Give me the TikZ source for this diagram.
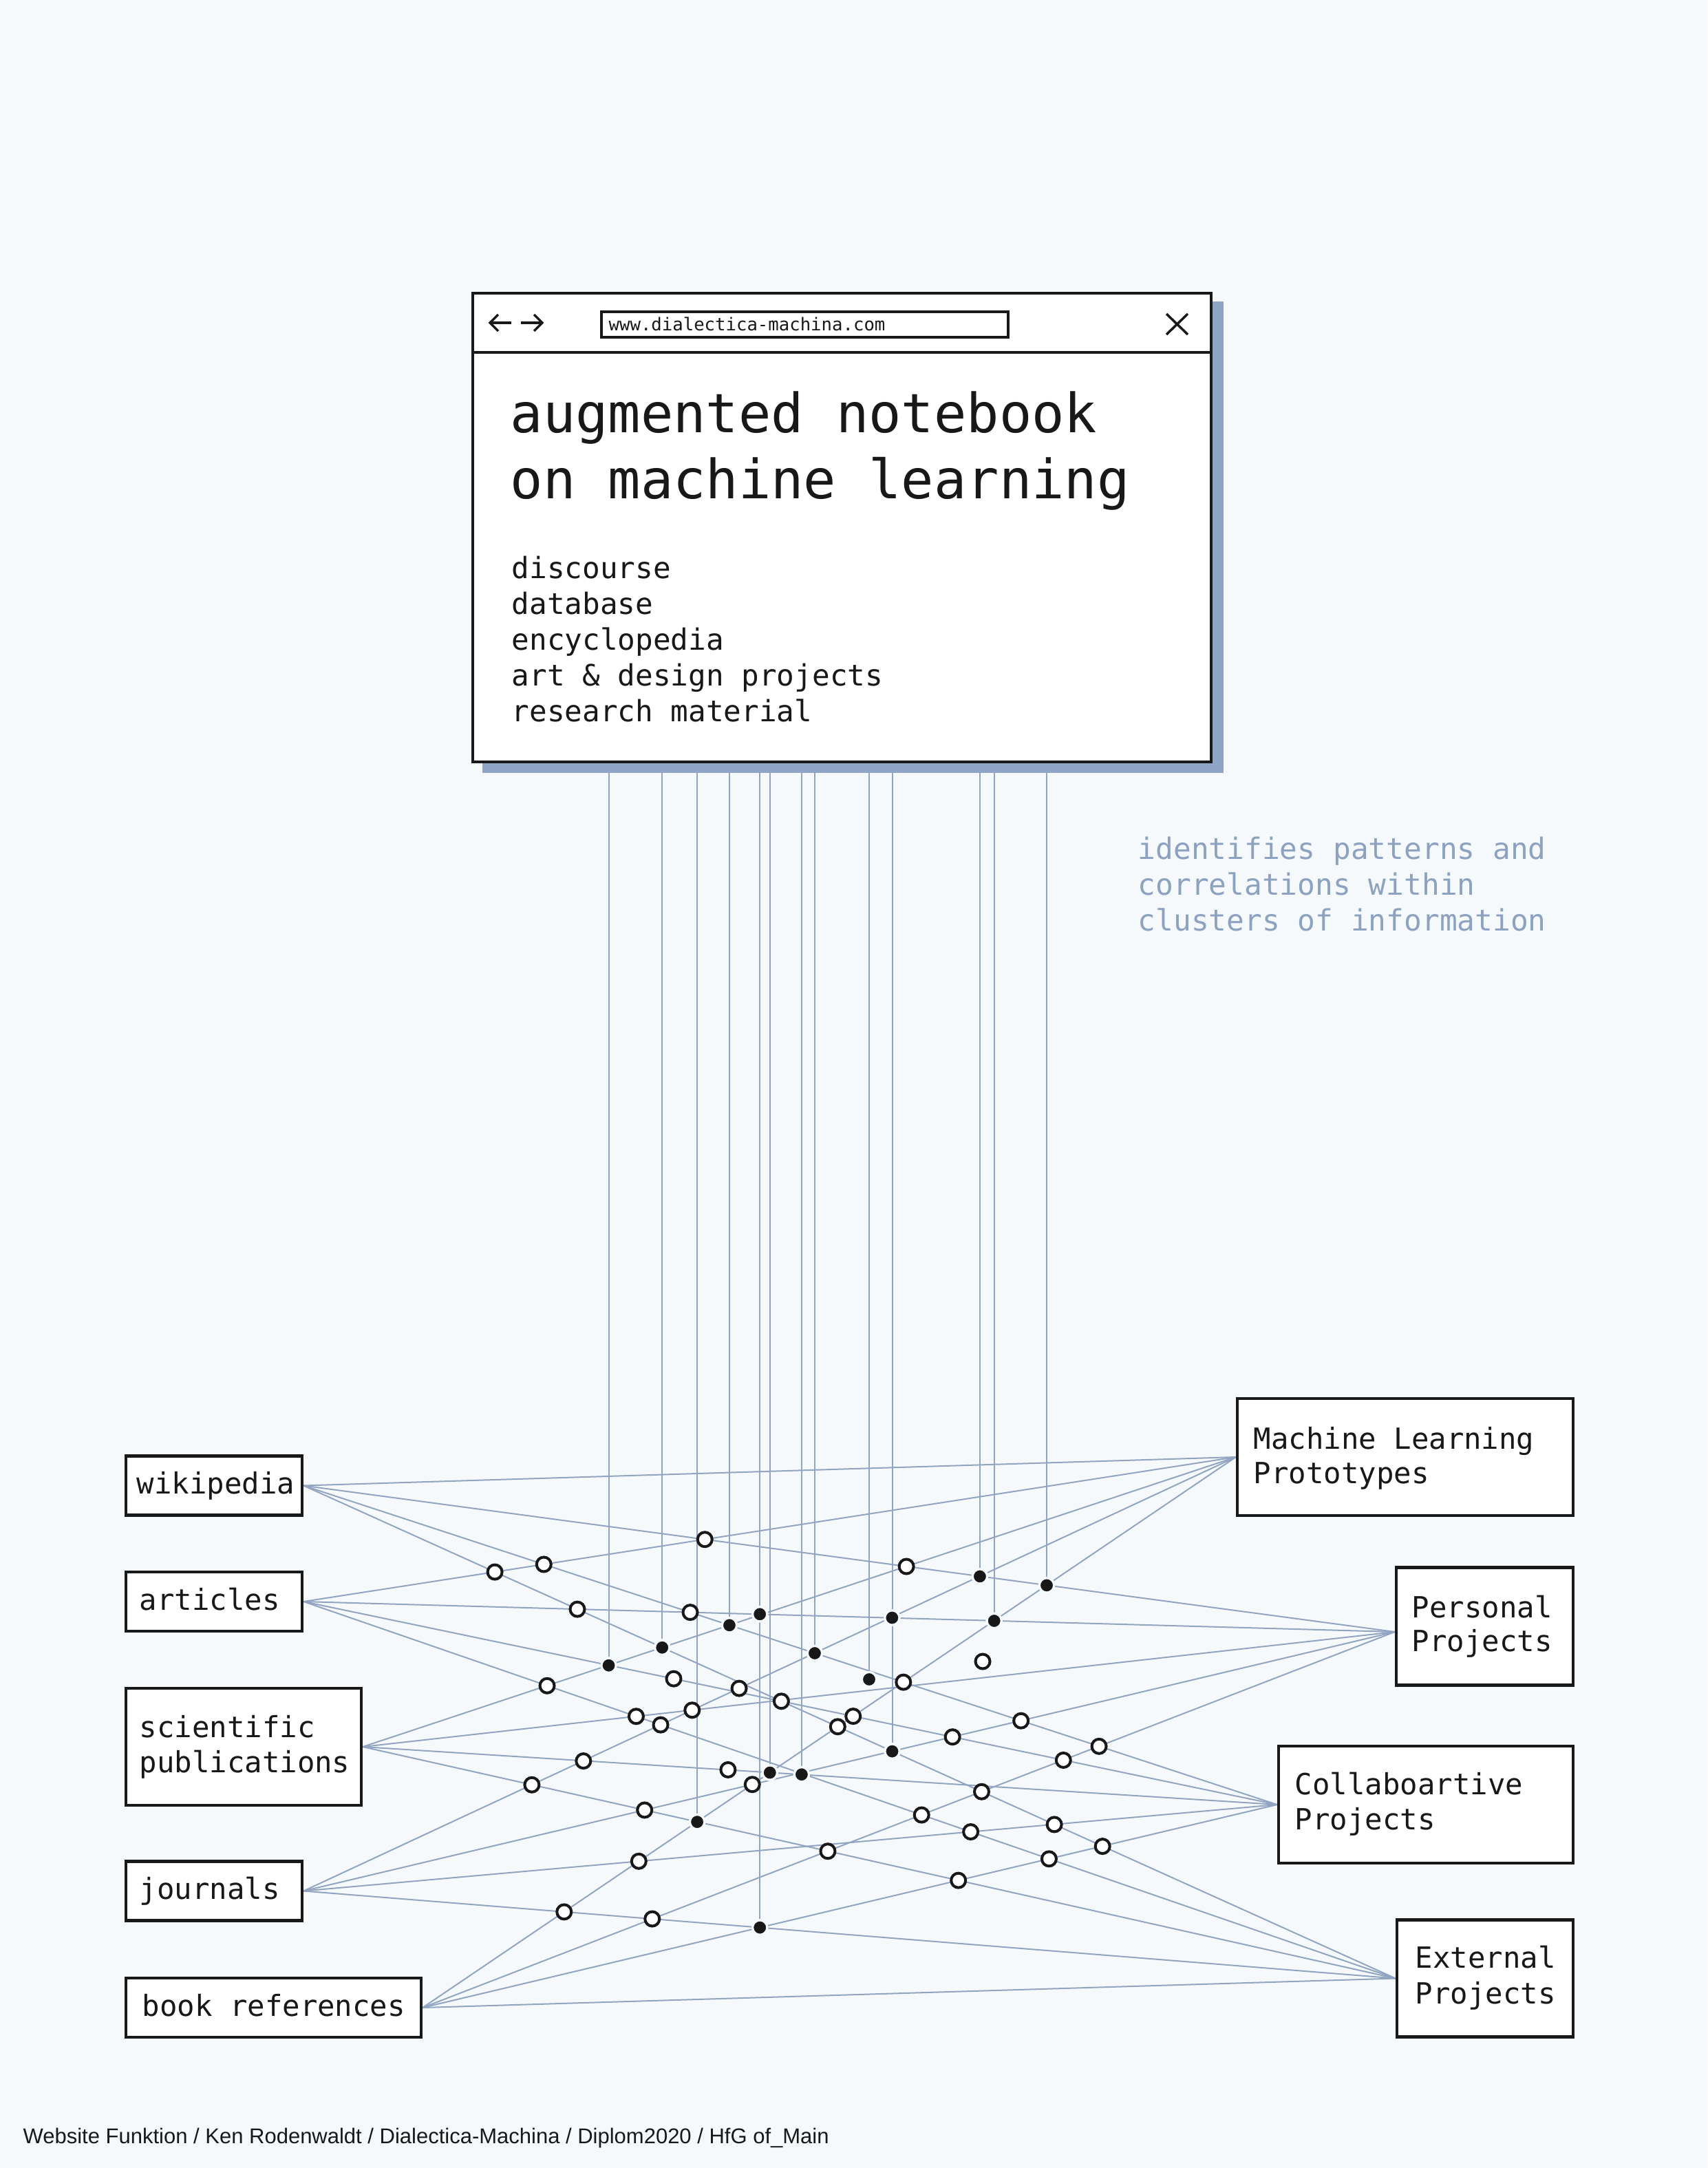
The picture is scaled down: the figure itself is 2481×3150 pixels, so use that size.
\documentclass[tikz,border=0pt]{standalone}
\usepackage{fontspec}
\setmonofont{DejaVu Sans Mono}
\newfontfamily\footfont{Liberation Sans}
\definecolor{bgc}{RGB}{246,249,251}
\definecolor{ink}{RGB}{24,24,24}
\definecolor{netc}{RGB}{145,165,194}
\definecolor{shadowc}{RGB}{142,165,197}
\definecolor{sidec}{RGB}{140,162,192}
\pgfdeclarelayer{back}
\pgfdeclarelayer{lines}
\pgfsetlayers{back,lines,main}
\newcommand\mkhole[5]{\node[hole] (#1) at (intersection cs: first line={(#2)--(#3)}, second line={(#4)--(#5)}) {};}
\newcommand\mkdot[5]{\node[dot] (#1) at (intersection cs: first line={(#2)--(#3)}, second line={(#4)--(#5)}) {};}
\begin{document}
\begin{tikzpicture}[x=0.3pt,y=-0.3pt,
  net/.style={draw=netc, line width=0.6pt},
  lbox/.style={rectangle, draw=ink, fill=white, line width=1.25pt, inner sep=0pt},
  lbl/.style={anchor=base west, inner sep=0pt, text=ink, font=\ttfamily\fontsize{12.7pt}{15pt}\selectfont},
  item/.style={anchor=base west, inner sep=0pt, text=ink, font=\ttfamily\fontsize{12.8pt}{15.6pt}\selectfont},
  titletext/.style={anchor=base west, inner sep=0pt, text=ink, font=\ttfamily\fontsize{23.6pt}{28.8pt}\selectfont},
  sidetext/.style={anchor=base west, inner sep=0pt, text=sidec, font=\ttfamily\fontsize{12.85pt}{15.6pt}\selectfont},
  icon/.style={draw=ink, line width=1.05pt},
  hole/.style={circle, fill=white, draw=ink, line width=1.2pt, inner sep=0pt, minimum size=6.3pt},
  dot/.style={circle, fill=ink, draw=bgc, line width=1.0pt, inner sep=0pt, minimum size=6.4pt}]
\useasboundingbox (0,0) rectangle (2481,3150);
\begin{pgfonlayer}{back}
\fill[bgc] (0,0) rectangle (2481,3150);
\end{pgfonlayer}

% browser window
\node[lbox, minimum width=321.9pt, minimum height=204.3pt] (win) at (1223.5,766.5) {};
\coordinate (hdr) at (0,512);
\draw[draw=ink, line width=1.25pt] (win.west |- hdr) -- (win.east |- hdr);
\draw[icon] (743,469) -- (712,469);
\draw[icon, line join=miter] (724,457) -- (712,469) -- (724,481);
\draw[icon] (757,469) -- (788,469);
\draw[icon, line join=miter] (776,457) -- (788,469) -- (776,481);
\draw[icon] (1695,456) -- (1726,486) (1695,486) -- (1726,456);
\node[rectangle, draw=ink, fill=white, line width=1pt, inner sep=0pt, minimum width=177.3pt, minimum height=11.1pt] (url) at (1169.5,471.5) {};
\node[anchor=base west, inner sep=0pt, text=ink, font=\ttfamily\fontsize{7.7pt}{9pt}\selectfont] (urltext) at (884,480) {www.dialectica-machina.com};
\node[titletext] (t1) at (741,628) {augmented notebook};
\node[titletext] (t2) at (741,724) {on machine learning};
\node[item] (i1) at (743,840) {discourse};
\node[item] (i2) at (743,892) {database};
\node[item] (i3) at (743,944) {encyclopedia};
\node[item] (i4) at (743,996) {art \& design projects};
\node[item] (i5) at (743,1048) {research material};

% side text
\node[sidetext] (side1) at (1653,1248) {identifies patterns and};
\node[sidetext] (side2) at (1653,1300) {correlations within};
\node[sidetext] (side3) at (1653,1352) {clusters of information};

% left boxes
\node[lbox, minimum width=76.8pt, minimum height=25.8pt] (wiki) at (311,2158.5) {};
\node[lbl] (wikiT) at (198,2170) {wikipedia};
\node[lbox, minimum width=76.8pt, minimum height=25.8pt] (art) at (311,2327) {};
\node[lbl] (artT) at (202,2339) {articles};
\node[lbox, minimum width=102.6pt, minimum height=51pt] (sci) at (354,2538) {};
\node[lbl] (sciT1) at (202,2524) {scientific};
\node[lbl] (sciT2) at (202,2575) {publications};
\node[lbox, minimum width=76.8pt, minimum height=25.8pt] (jour) at (311,2747.5) {};
\node[lbl] (jourT) at (202,2759) {journals};
\node[lbox, minimum width=128.7pt, minimum height=25.8pt] (book) at (397.5,2917) {};
\node[lbl] (bookT) at (206,2929) {book references};

% right boxes
\node[lbox, minimum width=146.4pt, minimum height=51pt] (mlp) at (2042,2117) {};
\node[lbl] (mlpT1) at (1821,2105) {Machine Learning};
\node[lbl] (mlpT2) at (1821,2155) {Prototypes};
\node[lbox, minimum width=77.1pt, minimum height=51.3pt] (pers) at (2157.5,2363) {};
\node[lbl] (persT1) at (2051,2350) {Personal};
\node[lbl] (persT2) at (2051,2399) {Projects};
\node[lbox, minimum width=128.4pt, minimum height=51pt] (coll) at (2072,2622) {};
\node[lbl] (collT1) at (1881,2607) {Collaboartive};
\node[lbl] (collT2) at (1881,2658) {Projects};
\node[lbox, minimum width=76.8pt, minimum height=51pt] (ext) at (2158,2874.5) {};
\node[lbl] (extT1) at (2056,2859) {External};
\node[lbl] (extT2) at (2056,2911) {Projects};

% footer
\node[anchor=base west, inner sep=0pt, text=ink, font=\footfont\fontsize{9.3pt}{11pt}\selectfont] (foot) at (33,3114) {Website Funktion / Ken Rodenwaldt / Dialectica-Machina / Diplom2020 / HfG of\_Main};

% line end points
\coordinate (w) at (wiki.east);
\coordinate (a) at (art.east);
\coordinate (s) at (sci.east);
\coordinate (j) at (jour.east);
\coordinate (b) at (book.east);
\coordinate (m) at (mlp.west);
\coordinate (p) at ([shift={(0,8)}]pers.west);
\coordinate (c) at (coll.west);
\coordinate (e) at (ext.west);

% helper verticals
\coordinate (v8a) at (1165,2000); \coordinate (v8b) at (1165,3000);
\coordinate (v9a) at (1074,2000); \coordinate (v9b) at (1074,3000);
\coordinate (v21a) at (1058,2000); \coordinate (v21b) at (1058,3000);
\coordinate (v8xa) at (979,2000); \coordinate (v8xb) at (979,3000);

% filled dots
\mkdot{F1}{a}{c}{s}{m}
\mkdot{F2}{w}{e}{s}{m}
\mkdot{F3}{s}{e}{b}{m}
\mkdot{F4}{w}{c}{s}{m}
\mkdot{F6}{j}{e}{b}{c}
\coordinate (F6t) at (F6 |- win.south);
\mkdot{F5}{a}{p}{F6}{F6t}
\mkdot{F7}{s}{c}{b}{m}
\mkdot{F8}{s}{c}{v8a}{v8b}
\mkdot{F9}{w}{c}{j}{m}
\node[dot] (F10) at (1263,2440) {};
\mkdot{F12}{w}{e}{j}{p}
\coordinate (F12t) at (F12 |- win.south);
\mkdot{F11}{a}{p}{F12}{F12t}
\mkdot{F13}{w}{p}{j}{m}
\mkdot{F14}{a}{p}{b}{m}
\mkdot{F15}{w}{p}{b}{m}

% open circles
\mkhole{o1}{w}{e}{a}{m}
\mkhole{o2}{w}{c}{a}{m}
\mkhole{o3}{w}{p}{a}{m}
\mkhole{o4}{w}{p}{s}{m}
\mkhole{o5}{w}{e}{a}{p}
\mkhole{o6}{w}{c}{a}{p}
\mkhole{o7}{a}{e}{s}{m}
\mkhole{o8}{a}{c}{v8xa}{v8xb}
\mkhole{o9}{j}{m}{v9a}{v9b}
\mkhole{o10}{w}{e}{a}{c}
\mkhole{o11}{w}{c}{b}{m}
\node[hole] (o12) at (1428,2414) {};
\mkhole{o13}{a}{e}{s}{p}
\mkhole{o14}{a}{e}{j}{m}
\mkhole{o15}{s}{p}{j}{m}
\mkhole{o16}{w}{e}{b}{m}
\mkhole{o17}{a}{c}{b}{m}
\mkhole{o18}{a}{c}{j}{p}
\mkhole{o19}{w}{c}{j}{p}
\mkhole{o20}{s}{c}{j}{m}
\mkhole{o21}{s}{c}{v21a}{v21b}
\mkhole{o22}{j}{p}{b}{m}
\mkhole{o23}{a}{c}{b}{p}
\mkhole{o24}{w}{c}{b}{p}
\mkhole{o25}{s}{e}{j}{m}
\mkhole{o26}{s}{e}{j}{p}
\mkhole{o27}{w}{e}{b}{p}
\mkhole{o28}{a}{e}{b}{p}
\mkhole{o29}{a}{e}{j}{c}
\mkhole{o30}{w}{e}{j}{c}
\mkhole{o31}{w}{e}{b}{c}
\mkhole{o32}{j}{c}{b}{m}
\mkhole{o33}{s}{e}{b}{p}
\mkhole{o34}{a}{e}{b}{c}
\mkhole{o35}{s}{e}{b}{c}
\mkhole{o36}{j}{e}{b}{m}
\mkhole{o37}{j}{e}{b}{p}

\begin{pgfonlayer}{lines}
\foreach \ll in {w,a,s,j,b} {
  \foreach \rr in {m,p,c,e} {
    \draw[net] (\ll) -- (\rr);
  }
}
\foreach \f in {F1,F2,F3,F4,F6,F7,F8,F9,F10,F12,F13,F14,F15} {
  \draw[net] (\f |- win.south) -- (\f);
}
\fill[shadowc] ([shift={(16,14)}]win.north west) rectangle ([shift={(16,14)}]win.south east);
\end{pgfonlayer}
\end{tikzpicture}
\end{document}
